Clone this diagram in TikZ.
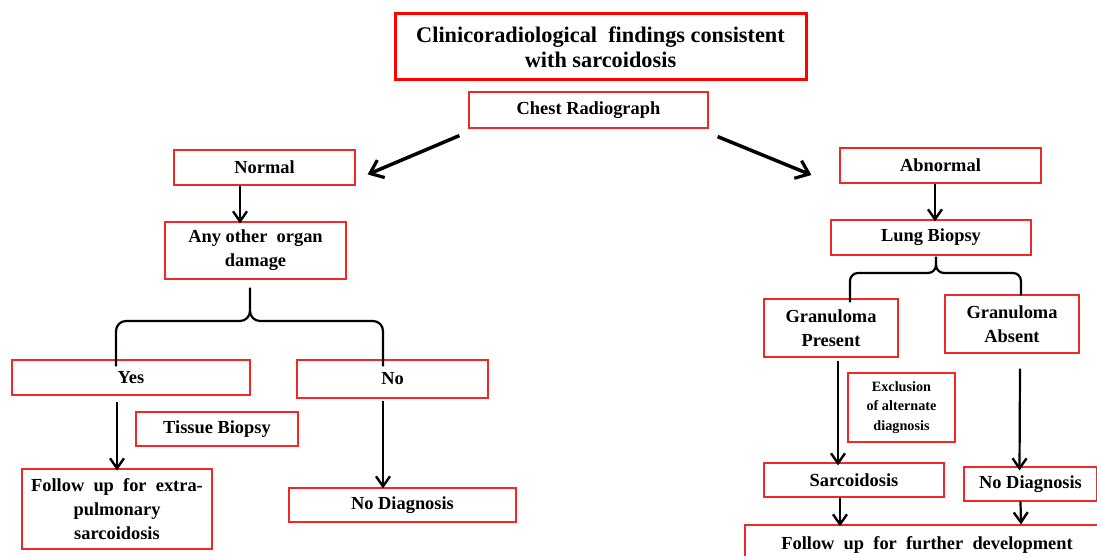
\documentclass[tikz,border=0pt]{standalone}
\usepackage{fontspec}
\setmainfont{Liberation Serif}
\usetikzlibrary{arrows.meta,calc}
\definecolor{boxred}{RGB}{240,40,40}
\tikzset{
  box/.style={draw=boxred, line width=1.2pt, inner sep=0pt, align=center,
    font=\fontsize{18.4}{24}\selectfont\bfseries},
  titlebox/.style={draw=red, line width=3pt, inner sep=0pt, align=center,
    font=\fontsize{22.3}{25}\selectfont\bfseries},
  smallbox/.style={box, font=\fontsize{14.2}{19.5}\selectfont\bfseries},
  arr/.style={line width=2.2pt, -{Straight Barb[length=10pt,width=14pt,line width=2.4pt]}},
  bigarr/.style={line width=3.5pt, -{Straight Barb[length=12pt,width=19pt,line width=3.2pt]}},
  brace/.style={line width=2.2pt}
}
\begin{document}
\begin{tikzpicture}[x=1pt,y=-1pt]
\clip (0,0) rectangle (1097,556);
\fill[white] (0,0) rectangle (1097,556);

\node[titlebox, minimum width=411, minimum height=66] (title) at (600.5,47)
  {Clinicoradiological\ \ findings consistent\\with sarcoidosis};
\node[box, minimum width=239, minimum height=36] (chest) at (588.5,110) {Chest Radiograph};
\node[box, minimum width=181, minimum height=35] (normal) at (264.5,167.5) {Normal};
\node[box, minimum width=201, minimum height=35] (abnormal) at (940.5,165.5) {Abnormal};
\node[box, minimum width=181, minimum height=57] (anyorg) at (255.5,250.5) {Any other\ \ organ\\damage};
\node[box, minimum width=200, minimum height=35] (lung) at (931,237.5) {Lung Biopsy};
\node[box, minimum width=134, minimum height=58] (gpres) at (831,328) {Granuloma\\Present};
\node[box, minimum width=134, minimum height=58] (gabs) at (1012,324) {Granuloma\\Absent};
\node[box, minimum width=238, minimum height=35] (yes) at (131,377.5) {Yes};
\node[box, minimum width=191, minimum height=38] (no) at (392.5,379) {No};
\node[box, minimum width=162, minimum height=34] (tissue) at (217,429) {Tissue Biopsy};
\node[smallbox, minimum width=107, minimum height=69] (excl) at (901.5,407.5) {Exclusion\\of alternate\\diagnosis};
\node[box, minimum width=190, minimum height=80] (fuextra) at (117,509) {Follow\ \ up\ \ for\ \ extra-\\pulmonary\\sarcoidosis};
\node[box, minimum width=227, minimum height=34] (nodiagL) at (402.5,505) {No Diagnosis};
\node[box, minimum width=180, minimum height=34] (sarc) at (854,480) {Sarcoidosis};
\node[box, minimum width=133, minimum height=34] (nodiagR) at (1030.5,484) {No Diagnosis};
\node[box, minimum width=364, minimum height=40] (fufurther) at (927,545) {Follow\ \ up\ \ for\ \ further\ \ development};

% diagonal arrows
\draw[bigarr] ($(chest.south west)+(-9,7)$) -- ($(normal.east)+(12,7)$);
\draw[bigarr] ($(chest.south east)+(9,8)$) -- ($(abnormal.west)+(-28,9.5)$);

% vertical arrows
\draw[arr] ([xshift=-24.5]normal.south) -- ([xshift=-15.5,yshift=-2]anyorg.north);
\draw[arr] ([xshift=-5.5]abnormal.south) -- ([xshift=4,yshift=-2]lung.north);
\draw[arr] ([xshift=-14,yshift=-6]yes.south) -- ([yshift=-2]fuextra.north);
\draw[arr] ([xshift=-9.5,yshift=-2]no.south) -- ([xshift=-19.5,yshift=-1]nodiagL.north);
\draw[arr] ([xshift=7,yshift=-3]gpres.south) -- ([xshift=-16,yshift=-3]sarc.north);
\draw[arr] ([xshift=8,yshift=-15]gabs.south) -- ([xshift=-11,yshift=-4]nodiagR.north);
\draw[arr] ([xshift=-14]sarc.south) -- ([xshift=-87,yshift=-2]fufurther.north);
\draw[arr] ([xshift=-10]nodiagR.south) -- ([xshift=94]fufurther.north);

% braces
\coordinate (lbtop) at ([xshift=-5.5,yshift=-8]anyorg.south);
\coordinate (lbl) at ([xshift=-15,yshift=-7]yes.north);
\coordinate (lbr) at ([xshift=-9.5,yshift=-7]no.north);
\draw[brace] (lbl) -- ($(lbl|-0,331)$) to[out=90,in=180] ($(lbl|-0,321)+(10,0)$)
  -- (240,321) to[out=0,in=-90] (250,311) -- (lbtop);
\draw[brace] (250,311) to[out=-90,in=180] (260,321) -- ($(lbr|-0,321)+(-10,0)$)
  to[out=0,in=90] ($(lbr|-0,331)$) -- (lbr);

\coordinate (rbtop) at ([xshift=5,yshift=-1]lung.south);
\coordinate (rbl) at ([xshift=19,yshift=-4]gpres.north);
\coordinate (rbr) at ([xshift=9,yshift=-1]gabs.north);
\draw[brace] (rbl) -- ($(rbl|-0,281)$) to[out=90,in=180] ($(rbl|-0,273)+(8,0)$)
  -- (928,273) to[out=0,in=-90] (936,265) -- (rbtop);
\draw[brace] (936,265) to[out=-90,in=180] (944,273) -- ($(rbr|-0,273)+(-8,0)$)
  to[out=0,in=90] ($(rbr|-0,281)$) -- (rbr);
\end{tikzpicture}
\end{document}
